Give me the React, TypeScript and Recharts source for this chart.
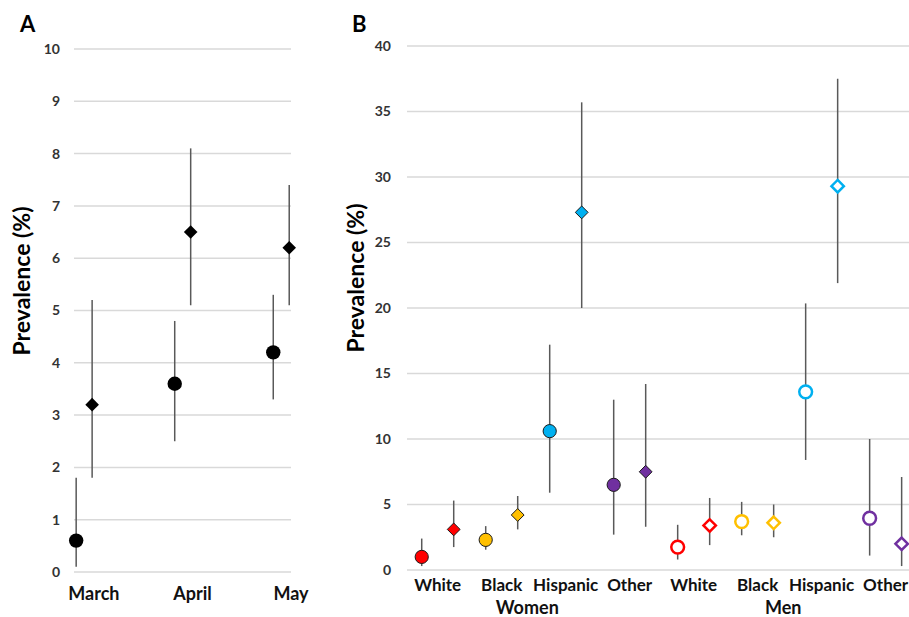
import React from 'react';
import { ScatterChart, Scatter, XAxis, YAxis, CartesianGrid, ErrorBar } from 'recharts';

// ---------- Panel A data ----------
const months = ['March', 'April', 'May'];
const aCircleValue = [0.6, 3.6, 4.2];
const aCircleLow = [0.1, 2.5, 3.3];
const aCircleHigh = [1.8, 4.8, 5.3];
const aDiamondValue = [3.2, 6.5, 6.2];
const aDiamondLow = [1.8, 5.1, 5.1];
const aDiamondHigh = [5.2, 8.1, 7.4];
const aYTicks = [0, 1, 2, 3, 4, 5, 6, 7, 8, 9, 10];

// ---------- Panel B data ----------
const races = ['White', 'Black', 'Hispanic', 'Other'];
const sexes = ['Women', 'Men'];
const womenCircleValue = [1.0, 2.3, 10.6, 6.5];
const womenCircleLow = [0.3, 1.55, 5.9, 2.7];
const womenCircleHigh = [2.4, 3.35, 17.2, 13.0];
const womenDiamondValue = [3.1, 4.2, 27.3, 7.5];
const womenDiamondLow = [1.75, 3.1, 20.0, 3.3];
const womenDiamondHigh = [5.3, 5.65, 35.7, 14.2];
const menCircleValue = [1.75, 3.7, 13.6, 3.95];
const menCircleLow = [0.8, 2.65, 8.4, 1.1];
const menCircleHigh = [3.45, 5.2, 20.35, 10.0];
const menDiamondValue = [3.4, 3.6, 29.3, 2.0];
const menDiamondLow = [1.9, 2.5, 21.9, 0.3];
const menDiamondHigh = [5.5, 5.0, 37.5, 7.1];
const bYTicks = [0, 5, 10, 15, 20, 25, 30, 35, 40];

// ---------- styles ----------
const raceColors = ['#FF0000', '#FFC000', '#00B0F0', '#7030A0'];
const FONT = 'Lato, "Open Sans", sans-serif';
const GRID = '#d9d9d9';
const ERR = '#595959';

const A_DIAMOND_OFFSET = 0.162;
const A_LABEL_OFFSET = 0.18;
const SEX_LABEL_OFFSET = 3.3;

const buildA = (vals: number[], lows: number[], highs: number[], offset: number) =>
  vals.map((v, i) => ({ x: i + offset, y: v, err: [v - lows[i], highs[i] - v] }));

const buildB = (vals: number[], lows: number[], highs: number[], sexIdx: number, kind: number) =>
  vals.map((v, i) => ({
    x: sexIdx * 8 + i * 2 + kind,
    y: v,
    err: [v - lows[i], highs[i] - v],
    color: raceColors[i],
    hollow: sexIdx === 1,
  }));

const aCircles = buildA(aCircleValue, aCircleLow, aCircleHigh, 0);
const aDiamonds = buildA(aDiamondValue, aDiamondLow, aDiamondHigh, A_DIAMOND_OFFSET);

const bWomenCircles = buildB(womenCircleValue, womenCircleLow, womenCircleHigh, 0, 0);
const bWomenDiamonds = buildB(womenDiamondValue, womenDiamondLow, womenDiamondHigh, 0, 1);
const bMenCircles = buildB(menCircleValue, menCircleLow, menCircleHigh, 1, 0);
const bMenDiamonds = buildB(menDiamondValue, menDiamondLow, menDiamondHigh, 1, 1);

const sexTicks = sexes.map((_, g) => g * 8 + SEX_LABEL_OFFSET);
const sexAnchors = sexTicks.map((x) => ({ x, y: 0 }));

const diamondPts = (cx: number, cy: number, h: number) =>
  `${cx},${cy - h} ${cx + h},${cy} ${cx},${cy + h} ${cx - h},${cy}`;

const BlackCircle = (p: any) => <circle cx={p.cx} cy={p.cy} r={7.2} fill="#000" />;
const BlackDiamond = (p: any) => <polygon points={diamondPts(p.cx, p.cy, 6.8)} fill="#000" />;
const Nothing = () => <g />;

const ColorCircle = (p: any) => {
  const d = p.payload;
  return d.hollow ? (
    <circle cx={p.cx} cy={p.cy} r={6.4} fill="#fff" stroke={d.color} strokeWidth={2.5} />
  ) : (
    <circle cx={p.cx} cy={p.cy} r={6.6} fill={d.color} stroke="#1a1a1a" strokeWidth={1} />
  );
};
const ColorDiamond = (p: any) => {
  const d = p.payload;
  return d.hollow ? (
    <polygon points={diamondPts(p.cx, p.cy, 6.2)} fill="#fff" stroke={d.color} strokeWidth={2.5} />
  ) : (
    <polygon points={diamondPts(p.cx, p.cy, 6.4)} fill={d.color} stroke="#1a1a1a" strokeWidth={1} />
  );
};

const yTickStyle = { fontSize: 14, fontWeight: 700, fill: '#333', fontFamily: FONT };
const xTickStyle = { fontSize: 17, fontWeight: 700, fill: '#111', fontFamily: FONT };

const errBar = (
  <ErrorBar dataKey="err" direction="y" width={0} stroke={ERR} strokeWidth={1.5} isAnimationActive={false} />
);

const PanelA = () => (
  <ScatterChart width={320} height={617} margin={{ top: 49, right: 29, bottom: 0, left: 44 }}>
    <CartesianGrid vertical={false} stroke={GRID} strokeWidth={1.5} />
    <XAxis
      type="number"
      dataKey="x"
      domain={[-0.022, 2.18]}
      ticks={months.map((_, i) => i + A_LABEL_OFFSET)}
      tickFormatter={(v: number) => months[Math.round(v - A_LABEL_OFFSET)]}
      interval={0}
      axisLine={false}
      tickLine={false}
      tickMargin={9}
      height={45}
      tick={{ ...xTickStyle, fontSize: 18 }}
    />
    <YAxis
      type="number"
      dataKey="y"
      domain={[0, 10]}
      ticks={aYTicks}
      interval={0}
      axisLine={false}
      tickLine={false}
      tickMargin={8}
      width={30}
      tick={yTickStyle}
    />
    <Scatter data={aCircles} shape={BlackCircle} isAnimationActive={false}>
      {errBar}
    </Scatter>
    <Scatter data={aDiamonds} shape={BlackDiamond} isAnimationActive={false}>
      {errBar}
    </Scatter>
  </ScatterChart>
);

const raceTicks = [0, 1, 2, 3, 4, 5, 6, 7].map((k) => k * 2 + 0.5);

const PanelB = () => (
  <ScatterChart width={579} height={617} margin={{ top: 46, right: 0, bottom: 0, left: 37 }}>
    <CartesianGrid vertical={false} stroke={GRID} strokeWidth={1.5} />
    <XAxis
      xAxisId="cat"
      type="number"
      dataKey="x"
      domain={[-0.46, 15.23]}
      ticks={raceTicks}
      tickFormatter={(v: number) => races[Math.floor(v / 2) % 4]}
      interval={0}
      axisLine={false}
      tickLine={false}
      tickMargin={3}
      height={24}
      tick={xTickStyle}
    />
    <XAxis
      xAxisId="grp"
      type="number"
      dataKey="x"
      domain={[-0.46, 15.23]}
      ticks={sexTicks}
      tickFormatter={(v: number) => sexes[Math.round((v - SEX_LABEL_OFFSET) / 8)]}
      interval={0}
      axisLine={false}
      tickLine={false}
      tickMargin={1}
      height={23}
      tick={{ ...xTickStyle, fontSize: 18 }}
    />
    <YAxis
      type="number"
      dataKey="y"
      domain={[0, 40]}
      ticks={bYTicks}
      interval={0}
      axisLine={false}
      tickLine={false}
      tickMargin={10}
      width={40}
      tick={yTickStyle}
    />
    <Scatter xAxisId="grp" data={sexAnchors} shape={Nothing} isAnimationActive={false} />
    <Scatter xAxisId="cat" data={bWomenCircles} shape={ColorCircle} isAnimationActive={false}>
      {errBar}
    </Scatter>
    <Scatter xAxisId="cat" data={bWomenDiamonds} shape={ColorDiamond} isAnimationActive={false}>
      {errBar}
    </Scatter>
    <Scatter xAxisId="cat" data={bMenCircles} shape={ColorCircle} isAnimationActive={false}>
      {errBar}
    </Scatter>
    <Scatter xAxisId="cat" data={bMenDiamonds} shape={ColorDiamond} isAnimationActive={false}>
      {errBar}
    </Scatter>
  </ScatterChart>
);

export default function App() {
  return (
    <div
      style={{
        position: 'absolute',
        left: 0,
        top: 0,
        width: 909,
        height: 617,
        background: '#fff',
        overflow: 'hidden',
        fontFamily: FONT,
      }}
    >
      <div style={{ position: 'absolute', left: 0, top: 0 }}>
        <PanelA />
      </div>
      <div style={{ position: 'absolute', left: 330, top: 0 }}>
        <PanelB />
      </div>
      <svg
        width={909}
        height={617}
        style={{ position: 'absolute', left: 0, top: 0, pointerEvents: 'none' }}
      >
        <text x={20} y={32} fontFamily={FONT} fontWeight={700} fontSize={22} fill="#000">
          A
        </text>
        <text x={352} y={32} fontFamily={FONT} fontWeight={700} fontSize={22} fill="#000">
          B
        </text>
        <text
          x={30}
          y={281}
          transform="rotate(-90 30 281)"
          textAnchor="middle"
          fontFamily={FONT}
          fontWeight={700}
          fontSize={23}
          fill="#000"
        >
          Prevalence (%)
        </text>
        <text
          x={364}
          y={278}
          transform="rotate(-90 364 278)"
          textAnchor="middle"
          fontFamily={FONT}
          fontWeight={700}
          fontSize={23}
          fill="#000"
        >
          Prevalence (%)
        </text>
      </svg>
    </div>
  );
}
